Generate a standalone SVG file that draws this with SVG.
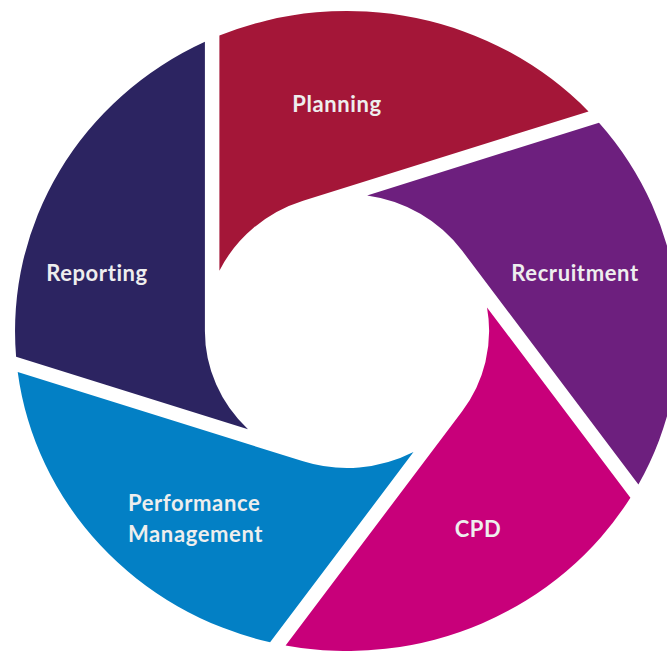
<svg xmlns="http://www.w3.org/2000/svg" width="667" height="651" viewBox="0 0 667 651">
<style>
.lbl{font-family:Lato,"Open Sans","Liberation Sans",sans-serif;font-weight:bold;font-size:22px;letter-spacing:0.6px;fill:#eeeeee}
.mid{text-anchor:middle}
</style>
<rect width="667" height="651" fill="#ffffff"/>
<g id="planning">
<path d="M 303.1 200.7 L 588.5 111.4 A 332 320 0 0 0 219.4 35.6 L 219.4 270.7 A 142.1 137 0 0 1 303.1 200.7 Z" fill="#a41638"/>
<text class="lbl mid" x="337" y="112">Planning</text>
</g>
<g id="recruitment">
<path d="M 462.0 250.5 L 638.4 484.4 A 332 320 0 0 0 599.0 122.7 L 367.1 195.4 A 142.1 137 0 0 1 462.0 250.5 Z" fill="#6d1f7e"/>
<text class="lbl mid" x="575" y="281">Recruitment</text>
</g>
<g id="cpd">
<path d="M 462.0 411.5 L 285.6 645.5 A 332 320 0 0 0 630.4 497.7 L 487.0 307.5 A 142.1 137 0 0 1 462.0 411.5 Z" fill="#c8007a"/>
<text class="lbl mid" x="478" y="537">CPD</text>
</g>
<g id="performance-management">
<path d="M 303.1 461.3 L 17.7 371.9 A 332 320 0 0 0 270.1 642.3 L 413.5 452.1 A 142.1 137 0 0 1 303.1 461.3 Z" fill="#0380c5"/>
<text class="lbl" x="128" y="511">Performance</text>
<text class="lbl" x="128" y="542">Management</text>
</g>
<g id="reporting">
<path d="M 204.9 331 L 204.9 41.8 A 332 320 0 0 0 16.1 356.7 L 248.0 429.3 A 142.1 137 0 0 1 204.9 331 Z" fill="#2c2461"/>
<text class="lbl mid" x="97" y="281">Reporting</text>
</g>
</svg>
